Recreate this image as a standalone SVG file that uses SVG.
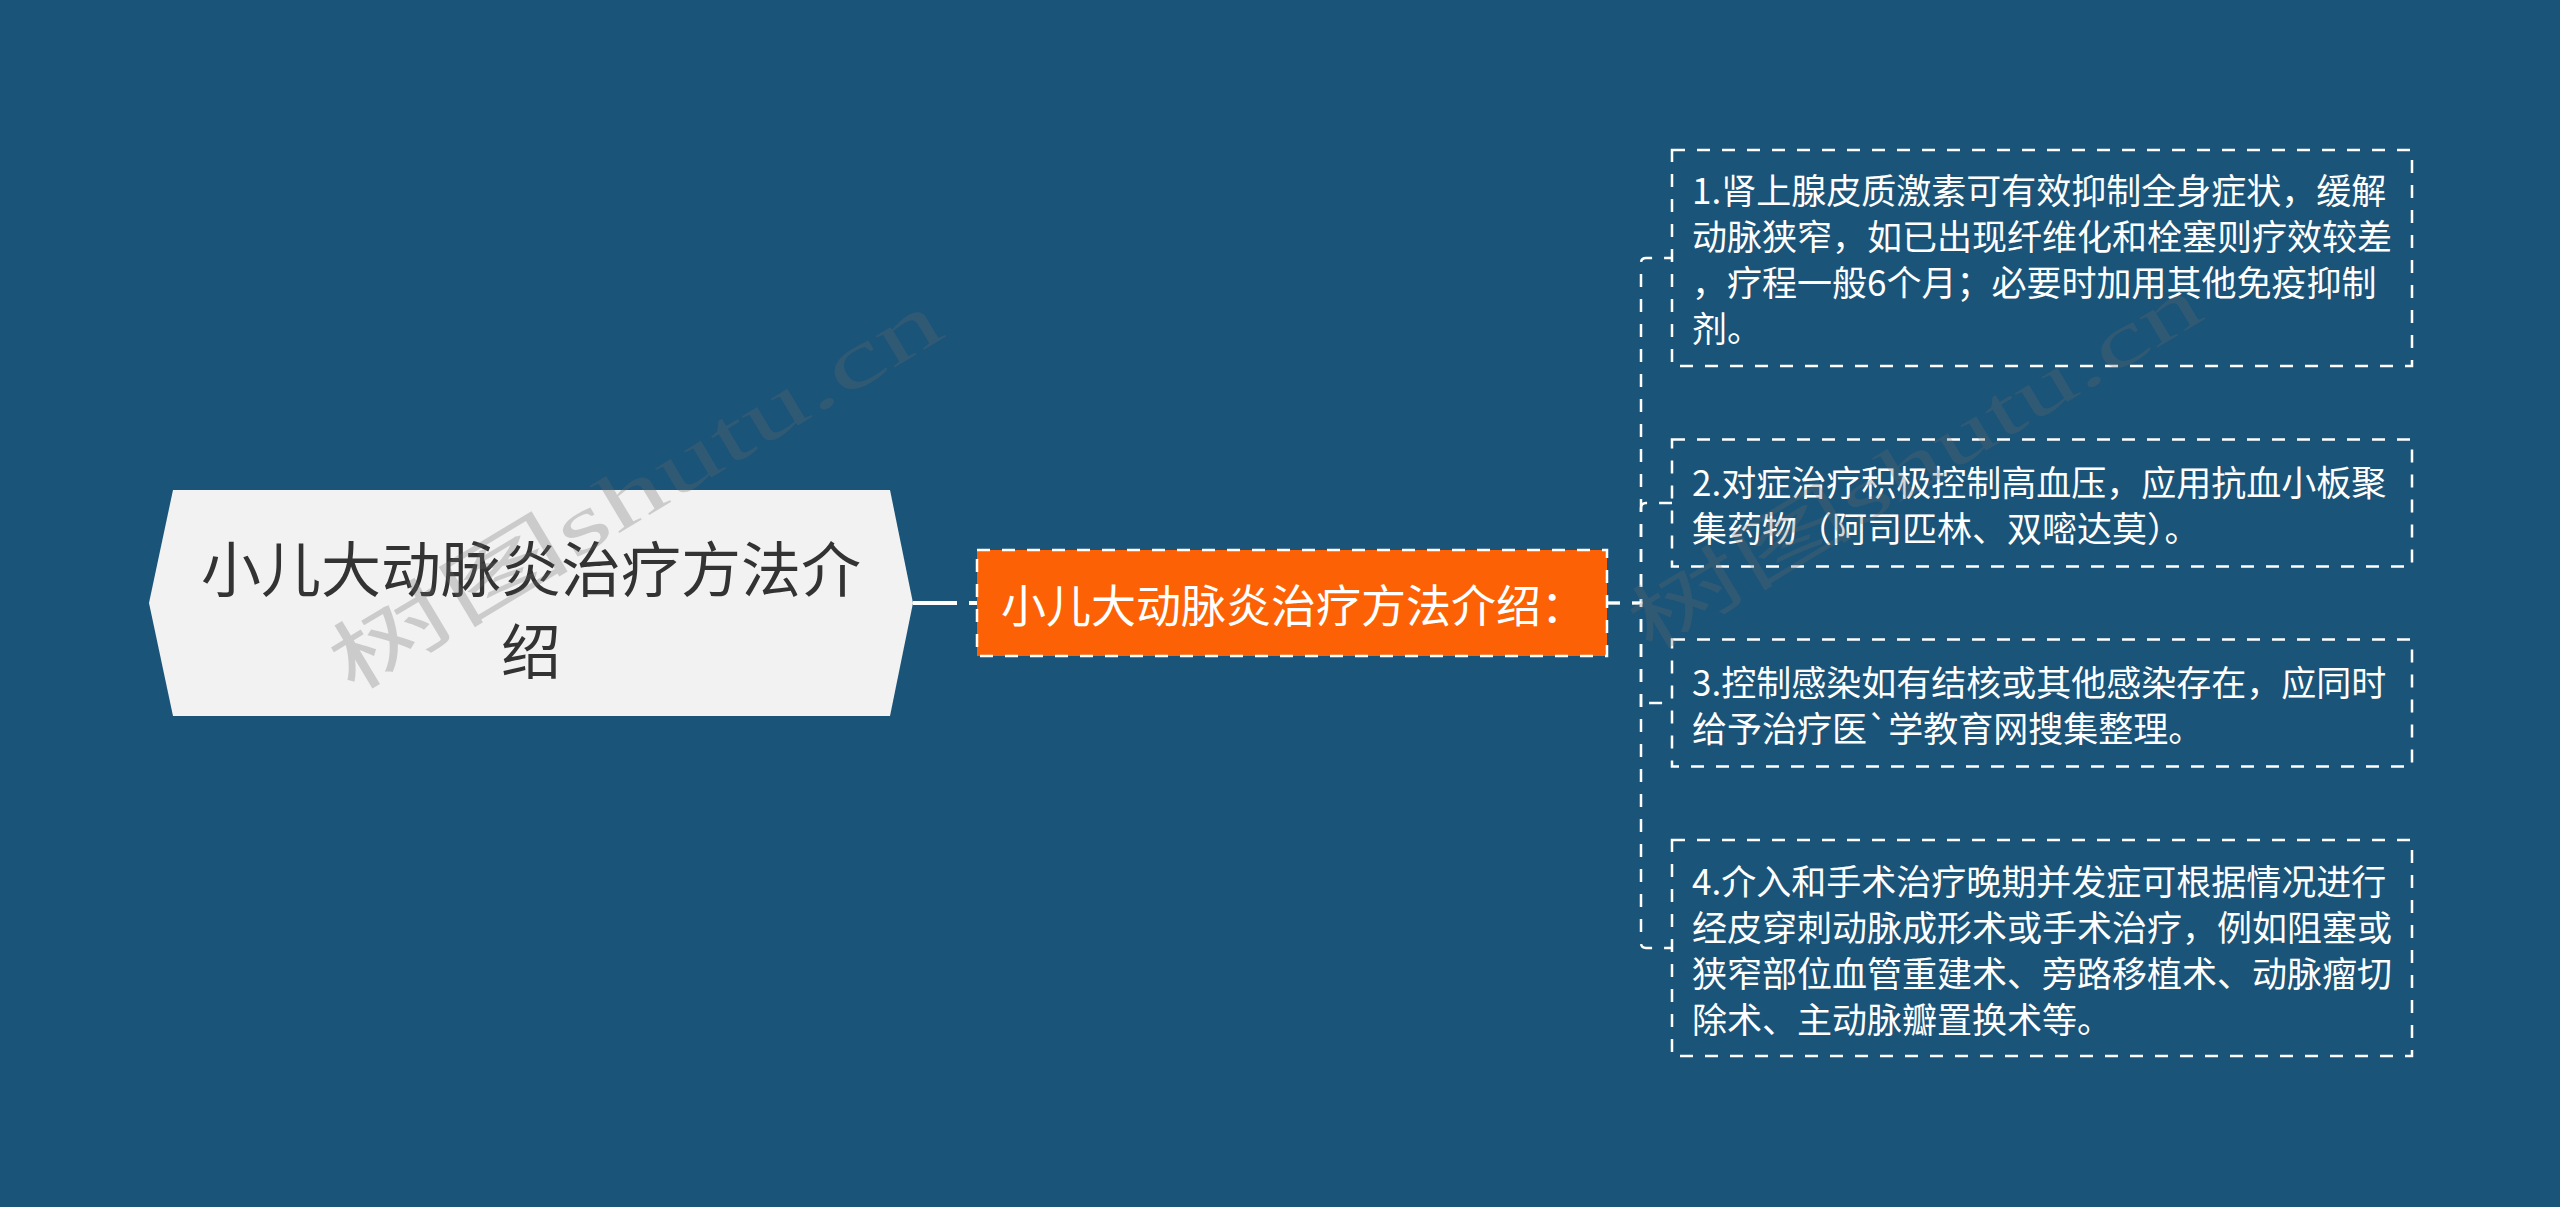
<svg xmlns="http://www.w3.org/2000/svg" width="2560" height="1207" viewBox="0 0 2560 1207">
<style>
.cjk{font-family:"Noto Sans CJK SC","Noto Sans",sans-serif;}
.leaf{fill:none;stroke:#ffffff;stroke-width:2.5;stroke-dasharray:13 12;}
.lt{font-size:35px;fill:#ffffff;dominant-baseline:central;}
.conn{fill:none;stroke:#ffffff;stroke-width:2.5;stroke-dasharray:13 12;}
.wm{font-family:"Liberation Serif","Noto Sans CJK SC",serif;fill:#6a6a6a;opacity:0.28;}
</style>
<rect x="0" y="0" width="2560" height="1207" fill="#1a5479"/>
<g id="connectors">
<path d="M913,603 H977" fill="none" stroke="#ffffff" stroke-width="4" stroke-dasharray="44 12"/>
<path class="conn" d="M1607,603 H1641 V263 Q1641,258 1646,258 H1672"/>
<path class="conn" d="M1607,603 H1641 V508 Q1641,503 1646,503 H1672"/>
<path class="conn" d="M1607,603 H1641 V708 Q1641,703 1646,703 H1672"/>
<path class="conn" d="M1607,603 H1641 V943 Q1641,948 1646,948 H1672"/>
</g>
<g id="root">
<polygon points="149,603 173,490 890,490 913,603 890,716 173,716" fill="#f2f2f2"/>
<text class="cjk" x="531" y="565" font-size="60" fill="#333333" text-anchor="middle" dominant-baseline="central">小儿大动脉炎治疗方法介</text>
<text class="cjk" x="531" y="647" font-size="60" fill="#333333" text-anchor="middle" dominant-baseline="central">绍</text>
</g>
<g id="main">
<rect x="977" y="550" width="630" height="106" fill="#fc6205" stroke="#ffffff" stroke-width="2.5" stroke-dasharray="13 12"/>
<text class="cjk" x="1001" y="603" font-size="45" fill="#ffffff" dominant-baseline="central">小儿大动脉炎治疗方法介绍：</text>
</g>
<g id="leaf1">
<rect class="leaf" x="1672" y="150" width="740" height="216"/>
<text class="cjk lt" x="1692" y="188">1.肾上腺皮质激素可有效抑制全身症状，缓解</text>
<text class="cjk lt" x="1692" y="234">动脉狭窄，如已出现纤维化和栓塞则疗效较差</text>
<text class="cjk lt" x="1692" y="280">，疗程一般6个月；必要时加用其他免疫抑制</text>
<text class="cjk lt" x="1692" y="326">剂。</text>
</g>
<g id="leaf2">
<rect class="leaf" x="1672" y="439.5" width="740" height="127"/>
<text class="cjk lt" x="1692" y="480">2.对症治疗积极控制高血压，应用抗血小板聚</text>
<text class="cjk lt" x="1692" y="526">集药物（阿司匹林、双嘧达莫）。</text>
</g>
<g id="leaf3">
<rect class="leaf" x="1672" y="639.5" width="740" height="127"/>
<text class="cjk lt" x="1692" y="680">3.控制感染如有结核或其他感染存在，应同时</text>
<text class="cjk lt" x="1692" y="726">给予治疗医`学教育网搜集整理。</text>
</g>
<g id="leaf4">
<rect class="leaf" x="1672" y="840" width="740" height="216"/>
<text class="cjk lt" x="1692" y="879">4.介入和手术治疗晚期并发症可根据情况进行</text>
<text class="cjk lt" x="1692" y="925">经皮穿刺动脉成形术或手术治疗，例如阻塞或</text>
<text class="cjk lt" x="1692" y="971">狭窄部位血管重建术、旁路移植术、动脉瘤切</text>
<text class="cjk lt" x="1692" y="1017">除术、主动脉瓣置换术等。</text>
</g>
<g id="watermarks">
<text class="wm" x="351" y="694" font-size="80" transform="rotate(-31 351 694)" textLength="696" lengthAdjust="spacingAndGlyphs">树图shutu.cn</text>
<text class="wm" x="1649" y="653" font-size="75" transform="rotate(-31 1649 653)" textLength="651" lengthAdjust="spacingAndGlyphs">树图shutu.cn</text>
</g>
</svg>
